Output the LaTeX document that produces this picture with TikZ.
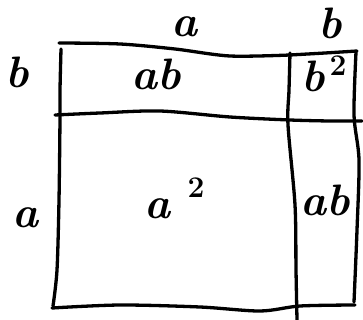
\documentclass[tikz,border=0pt]{standalone}
\usepackage{fontspec}
\begin{document}
\begin{tikzpicture}[x=1pt,y=-1pt,
  hand/.style={line width=3.3pt,line cap=round,line join=round,black},
  lbl/.style={inner sep=0pt,anchor=base,font=\fontsize{44}{44}\selectfont\bfseries\itshape},
  sup/.style={inner sep=0pt,anchor=base,font=\fontsize{30}{30}\selectfont\bfseries}]
\useasboundingbox (0,0) rectangle (363,320);
% outer and inner lines (hand drawn)
\draw[hand] plot[smooth] coordinates {(59,43) (120,44) (175,49) (230,56) (290,55)};
\draw[hand] plot[smooth] coordinates {(290,55) (325,53) (357,51)};
\draw[hand] plot[smooth] coordinates {(61,49) (60,90) (60,118) (59,200) (57,270) (53,306)};
\draw[hand] plot[smooth] coordinates {(55,115) (100,113) (160,111) (230,117) (290,120) (330,121) (362,121)};
\draw[hand] plot[smooth] coordinates {(290,53) (289,90) (288,125) (295,205) (296,270) (297,320)};
\draw[hand] plot[smooth] coordinates {(356,52) (354,115) (359,160) (357,230) (354,302)};
\draw[hand] plot[smooth] coordinates {(52,308) (120,305) (200,307) (260,311) (300,306) (355,305)};
% labels
\node[lbl] (ta) at (184,37) {a};
\node[lbl] (tb) at (330,39) {b};
\node[lbl] (lb) at (17,88) {b};
\node[lbl] (la) at (26,227) {a};
\node[lbl] (ab1) at (156,90) {ab};
\node[lbl] (bb) at (313,92) {b};
\node[sup] (bb2) at (338,76) {2};
\node[lbl] (aa) at (157,218) {a};
\node[sup] (aa2) at (196,197) {2};
\node[lbl] (ab2) at (325,215) {ab};
\end{tikzpicture}
\end{document}
